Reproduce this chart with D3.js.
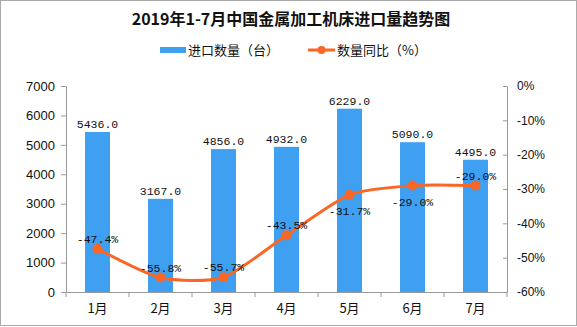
<!DOCTYPE html>
<html><head><meta charset="utf-8">
<script src="https://cdn.jsdelivr.net/npm/d3@7"></script>
<style>body{margin:0;background:#fff}svg{display:block}</style>
</head><body>
<svg id="c" width="577" height="327"></svg>
<script>
const months = ["1月","2月","3月","4月","5月","6月","7月"];
const imports = [5436.0, 3167.0, 4856.0, 4932.0, 6229.0, 5090.0, 4495.0];
const yoy = [-47.4, -55.8, -55.7, -43.5, -31.7, -29.0, -29.0];
const yoyLabelPos = ["above","above","above","above","below","below","above"];
const leftTicks = [0,1000,2000,3000,4000,5000,6000,7000];
const rightTicks = [0,-10,-20,-30,-40,-50,-60];
const title = "2019年1-7月中国金属加工机床进口量趋势图";
const legendNames = ["进口数量（台）","数量同比（%）"];

const W=577,H=327;
const m={l:66,r:507,t:86,b:292};
const barColor="#3f9ff1", lineColor="#fa6625", axisColor="#999";
const svg=d3.select("#c");
svg.append("rect").attr("x",0.5).attr("y",0.5).attr("width",W-1).attr("height",H-2)
  .attr("fill","#fff").attr("stroke","#aaa");

const x=d3.scaleBand().domain(months).range([m.l,m.r]);
const yL=d3.scaleLinear().domain([0,7000]).range([m.b,m.t]);
const yR=d3.scaleLinear().domain([-60,0]).range([m.b,m.t]);

// title
svg.append("text").attr("x",291).attr("y",25).attr("text-anchor","middle")
  .attr("font-family","'Noto Sans CJK SC'").attr("font-weight","bold").attr("font-size",16)
  .attr("fill","#111").text(title);

// legend
const lg=svg.append("g");
lg.append("rect").attr("x",160).attr("y",47).attr("width",26).attr("height",6).attr("fill",barColor);
lg.append("text").attr("x",188).attr("y",55).attr("font-family","'Noto Sans CJK SC'").attr("font-size",13).attr("fill","#111").text(legendNames[0]);
lg.append("line").attr("x1",308).attr("x2",335).attr("y1",50).attr("y2",50).attr("stroke",lineColor).attr("stroke-width",3);
lg.append("circle").attr("cx",321.5).attr("cy",50).attr("r",4).attr("fill",lineColor);
lg.append("text").attr("x",337).attr("y",55).attr("font-family","'Noto Sans CJK SC'").attr("font-size",13).attr("fill","#111").text(legendNames[1]);

// left axis
const gL=svg.append("g").attr("transform",`translate(${m.l},0)`)
  .call(d3.axisLeft(yL).tickValues(leftTicks).tickSize(5).tickSizeOuter(0).tickPadding(6).tickFormat(d3.format("d")));
gL.select(".domain").attr("stroke",axisColor);
gL.selectAll(".tick line").attr("stroke",axisColor);
gL.selectAll("text").attr("font-family","'Liberation Sans'").attr("font-size",13).attr("fill","#111");

// right axis
const gR=svg.append("g").attr("transform",`translate(${m.r},0)`)
  .call(d3.axisRight(yR).tickValues(rightTicks).tickSize(-4).tickSizeOuter(0).tickPadding(10).tickFormat(d=>d+"%"));
gR.select(".domain").attr("stroke",axisColor);
gR.selectAll(".tick line").attr("stroke",axisColor);
gR.selectAll("text").attr("font-family","'Liberation Sans'").attr("font-size",12).attr("fill","#111");

// bars
const bw=25;
svg.append("g").selectAll("rect").data(imports).join("rect")
  .attr("x",(d,i)=>x(months[i])+x.bandwidth()/2-bw/2).attr("width",bw)
  .attr("y",d=>yL(d)).attr("height",d=>yL(0)-yL(d)).attr("fill",barColor);

// x axis
const gX=svg.append("g").attr("transform",`translate(0,${m.b})`)
  .call(d3.axisBottom(x).tickSize(0).tickPadding(12));
gX.select(".domain").attr("stroke",axisColor);
gX.selectAll("text").attr("font-family","'Noto Sans CJK SC'").attr("font-size",13).attr("fill","#111");
const bounds=months.map(mm=>x(mm)).concat([m.r]);
svg.append("g").selectAll("line").data(bounds).join("line")
  .attr("x1",d=>d).attr("x2",d=>d).attr("y1",m.b).attr("y2",m.b+5).attr("stroke",axisColor);

// bar labels
svg.append("g").selectAll("text").data(imports).join("text")
  .attr("x",(d,i)=>x(months[i])+x.bandwidth()/2).attr("y",d=>yL(d)-4)
  .attr("text-anchor","middle").attr("font-family","'Liberation Mono'").attr("font-size",11.5).attr("fill","#111")
  .text(d=>d.toFixed(1));

// line
const cx=(i)=>x(months[i])+x.bandwidth()/2;
const line=d3.line().x((d,i)=>cx(i)).y(d=>yR(d)).curve(d3.curveCardinal.tension(0.3));
svg.append("path").datum(yoy).attr("d",line).attr("fill","none").attr("stroke",lineColor).attr("stroke-width",3);
svg.append("g").selectAll("circle").data(yoy).join("circle")
  .attr("cx",(d,i)=>cx(i)).attr("cy",d=>yR(d)).attr("r",5).attr("fill",lineColor);
svg.append("g").selectAll("text").data(yoy).join("text")
  .attr("x",(d,i)=>cx(i)).attr("y",(d,i)=>yoyLabelPos[i]==="above"?yR(d)-6:yR(d)+20)
  .attr("text-anchor","middle").attr("font-family","'Liberation Mono'").attr("font-size",11.5).attr("fill","#111")
  .text(d=>d.toFixed(1)+"%");
</script>
</body></html>
